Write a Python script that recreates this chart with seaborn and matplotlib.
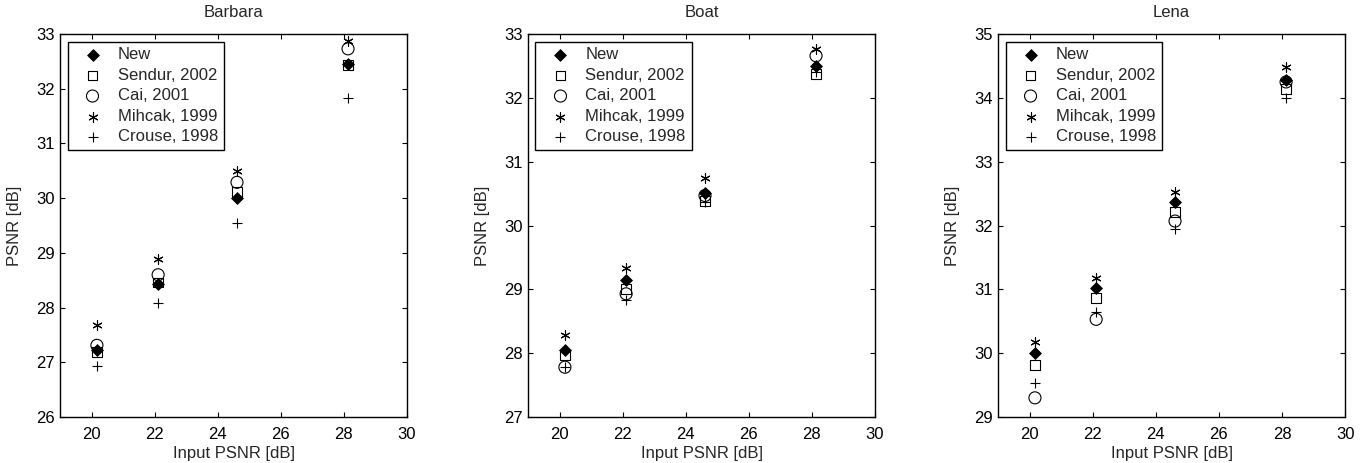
import numpy as np
import pandas as pd
import matplotlib
matplotlib.use("Agg")
import matplotlib.pyplot as plt
import seaborn as sns

# input noise levels (x positions, same for every image)
input_psnr = [20.17, 22.11, 24.61, 28.13]

methods = ["New", "Sendur, 2002", "Cai, 2001", "Mihcak, 1999", "Crouse, 1998"]

# output PSNR, one list per method
barbara_new = [27.22, 28.44, 30.01, 32.46]
barbara_sendur = [27.19, 28.46, 30.12, 32.43]
barbara_cai = [27.31, 28.60, 30.29, 32.73]
barbara_mihcak = [27.68, 28.89, 30.50, 32.87]
barbara_crouse = [26.93, 28.08, 29.55, 31.83]

boat_new = [28.05, 29.14, 30.51, 32.50]
boat_sendur = [27.97, 29.00, 30.38, 32.38]
boat_cai = [27.78, 28.93, 30.47, 32.66]
boat_mihcak = [28.28, 29.33, 30.74, 32.77]
boat_crouse = [27.78, 28.83, 30.37, 32.41]

lena_new = [30.01, 31.02, 32.37, 34.28]
lena_sendur = [29.82, 30.87, 32.21, 34.14]
lena_cai = [29.30, 30.53, 32.07, 34.25]
lena_mihcak = [30.18, 31.18, 32.53, 34.49]
lena_crouse = [29.53, 30.64, 31.95, 34.00]

images = ["Barbara", "Boat", "Lena"]
ylims = [(26, 33), (27, 33), (29, 35)]
results = {
    "Barbara": [barbara_new, barbara_sendur, barbara_cai, barbara_mihcak, barbara_crouse],
    "Boat": [boat_new, boat_sendur, boat_cai, boat_mihcak, boat_crouse],
    "Lena": [lena_new, lena_sendur, lena_cai, lena_mihcak, lena_crouse],
}

# marker styles, matlab-like
marker_kws = [
    dict(marker="D", s=36, color="black", edgecolor="black", linewidth=0.6),
    dict(marker="s", s=50, color="black", facecolor="none", edgecolor="black", linewidth=0.8),
    dict(marker="o", s=75, color="black", facecolor="none", edgecolor="black", linewidth=0.8),
    dict(marker=(6, 2, 0), s=45, color="black", linewidth=0.8),
    dict(marker="+", s=55, color="black", linewidth=0.8),
]

sns.set_style("ticks")
plt.rcParams["font.family"] = ["Liberation Sans", "DejaVu Sans"]
plt.rcParams["font.size"] = 12
plt.rcParams["xtick.direction"] = "in"
plt.rcParams["ytick.direction"] = "in"
plt.rcParams["xtick.top"] = True
plt.rcParams["ytick.right"] = True

fig = plt.figure(figsize=(13.7, 4.63), dpi=100)
lefts = [0.0438, 0.3854, 0.7285]

for img, left, ylim in zip(images, lefts, ylims):
    ax = fig.add_axes([left, 0.0994, 0.2533, 0.827])
    for name, vals, kws in zip(methods, results[img], marker_kws):
        df = pd.DataFrame({"x": input_psnr, "y": vals})
        sns.scatterplot(data=df, x="x", y="y", ax=ax, label=name, zorder=3, **kws)
    ax.set_xlim(19, 30)
    ax.set_ylim(*ylim)
    ax.set_xticks([20, 22, 24, 26, 28, 30])
    ax.set_yticks(np.arange(ylim[0], ylim[1] + 1))
    ax.set_title(img, fontsize=12, pad=12)
    ax.set_xlabel("Input PSNR [dB]", fontsize=12, labelpad=2.5)
    ax.set_ylabel("PSNR [dB]", fontsize=12, labelpad=10)
    ax.tick_params(length=3.5, width=0.8, colors="black", labelsize=12)
    ax.tick_params(axis="x", pad=7.5)
    ax.tick_params(axis="y", pad=4)
    for sp in ax.spines.values():
        sp.set_color("black")
        sp.set_linewidth(1.0)
    leg = ax.legend(loc="upper left", fontsize=12, frameon=True, fancybox=False,
                    framealpha=1, edgecolor="black", borderaxespad=0.45,
                    handlelength=2.3, handletextpad=0.35, labelspacing=0.33,
                    borderpad=0.35)
    leg.get_frame().set_linewidth(1.0)

plt.savefig("out.png", dpi=100)
